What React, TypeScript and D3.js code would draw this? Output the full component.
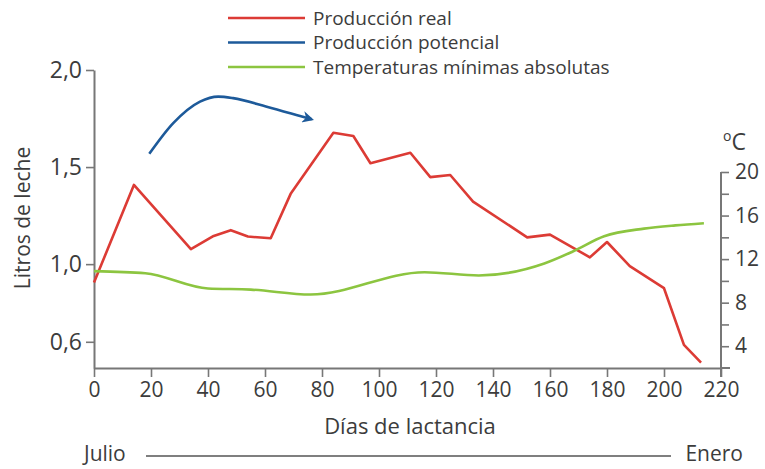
import * as React from "react";
import * as d3 from "d3";

// Producción real (litros de leche por día de lactancia)
const realDays = [0, 14, 34, 42, 48, 54, 62, 69, 84, 91, 97, 111, 118, 125, 133, 152, 160, 174, 180, 188, 200, 207, 213];
const realLitros = [0.905, 1.408, 1.077, 1.145, 1.175, 1.142, 1.133, 1.362, 1.677, 1.66, 1.52, 1.574, 1.448, 1.459, 1.322, 1.138, 1.152, 1.035, 1.114, 0.99, 0.876, 0.584, 0.493];

// Producción potencial (flecha)
const potDays = [19.4, 27.8, 37.2, 43.6, 48.8, 60.6, 72.3, 76.4];
const potLitros = [1.568, 1.726, 1.837, 1.863, 1.855, 1.811, 1.763, 1.746];

// Temperaturas mínimas absolutas (ºC)
const tempDays = [0, 18, 40, 55, 76, 116, 135, 158, 168, 179, 193, 204, 214];
const tempValues = [10.9, 10.7, 9.3, 9.2, 8.75, 10.8, 10.5, 11.6, 12.7, 14.1, 14.8, 15.1, 15.3];

const xTicks = [0, 20, 40, 60, 80, 100, 120, 140, 160, 180, 200, 220];
const leftTicks = [0.6, 1.0, 1.5, 2.0];
const rightTicks = [4, 6, 8, 10, 12, 14, 16, 18, 20];

const legendItems = [
  { label: "Producción real", color: "#dc3b35" },
  { label: "Producción potencial", color: "#1d5a9a" },
  { label: "Temperaturas mínimas absolutas", color: "#8cc540" },
];

const FONT = "'Open Sans', sans-serif";
const TEXT = "#3c3c3c";
const AXIS = "#777";

const Chart = () => {
  const svgRef = React.useRef(null);

  React.useEffect(() => {
    const width = 765;
    const height = 469;
    const svg = d3.select(svgRef.current).attr("width", width).attr("height", height);
    svg.selectAll("*").remove();

    const x = d3.scaleLinear().domain([0, 220]).range([94, 721]);
    const yL = d3.scaleLinear().domain([0.465, 2.0]).range([368, 70]);
    const yR = d3.scaleLinear().domain([2, 20]).range([368, 172]);

    const styleAxis = (g) => {
      g.select(".domain").attr("stroke", AXIS).attr("stroke-width", 2);
      g.selectAll(".tick line").attr("stroke", AXIS).attr("stroke-width", 1.6);
      g.selectAll(".tick text")
        .attr("fill", TEXT)
        .style("font-family", FONT)
        .style("font-size", "21px");
    };

    // x axis
    svg
      .append("g")
      .attr("transform", `translate(0 ${yL.range()[0]})`)
      .call(d3.axisBottom(x).tickValues(xTicks).tickSize(9).tickSizeOuter(0).tickPadding(5))
      .call(styleAxis);
    svg
      .append("line")
      .attr("x1", x(220))
      .attr("x2", x(220) + 9)
      .attr("y1", 368)
      .attr("y2", 368)
      .attr("stroke", AXIS)
      .attr("stroke-width", 2);

    // left axis
    svg
      .append("g")
      .attr("transform", `translate(${x(0)} 0)`)
      .call(
        d3
          .axisLeft(yL)
          .tickValues(leftTicks)
          .tickSize(8)
          .tickSizeOuter(0)
          .tickPadding(4)
          .tickFormat((d) => d3.format(".1f")(d).replace(".", ","))
      )
      .call(styleAxis)
      .call((g) => g.selectAll(".tick text").style("font-size", "23px"));

    // right axis
    const rAxis = svg
      .append("g")
      .attr("transform", `translate(${x(220)} 0)`)
      .call(
        d3
          .axisRight(yR)
          .tickValues(rightTicks)
          .tickSize(8)
          .tickSizeOuter(0)
          .tickPadding(6)
          .tickFormat((d) => (d % 4 === 0 ? String(d) : ""))
      )
      .call(styleAxis);
    rAxis.select(".domain").attr("d", `M0,${yR(20)}V${yR(2) + 9}`);

    // ºC label
    const degree = svg
      .append("text")
      .attr("x", 723)
      .attr("y", 150)
      .attr("fill", TEXT)
      .style("font-family", FONT)
      .style("font-size", "23px");
    degree.append("tspan").attr("font-size", "14px").attr("dy", "-9").text("o");
    degree.append("tspan").attr("dy", "9").text("C");

    // lines
    const realLine = d3
      .line()
      .x((d, i) => x(realDays[i]))
      .y((d) => yL(d));
    svg
      .append("path")
      .attr("d", realLine(realLitros))
      .attr("fill", "none")
      .attr("stroke", legendItems[0].color)
      .attr("stroke-width", 2.6)
      .attr("stroke-linejoin", "round");

    const tempLine = d3
      .line()
      .x((d, i) => x(tempDays[i]))
      .y((d) => yR(d))
      .curve(d3.curveMonotoneX);
    svg
      .append("path")
      .attr("d", tempLine(tempValues))
      .attr("fill", "none")
      .attr("stroke", legendItems[2].color)
      .attr("stroke-width", 2.6);

    // arrow
    svg
      .append("defs")
      .append("marker")
      .attr("id", "arrowhead")
      .attr("viewBox", "0 0 10 10")
      .attr("refX", 8)
      .attr("refY", 5)
      .attr("markerWidth", 4.5)
      .attr("markerHeight", 4.5)
      .attr("orient", "auto")
      .append("path")
      .attr("d", "M0,0 L10,5 L0,10 L3,5 Z")
      .attr("fill", legendItems[1].color);

    const potLine = d3
      .line()
      .x((d, i) => x(potDays[i]))
      .y((d) => yL(d))
      .curve(d3.curveMonotoneX);
    svg
      .append("path")
      .attr("d", potLine(potLitros))
      .attr("fill", "none")
      .attr("stroke", legendItems[1].color)
      .attr("stroke-width", 2.6)
      .attr("marker-end", "url(#arrowhead)");

    // legend
    const legend = svg.append("g");
    legendItems.forEach((item, i) => {
      const cy = 18 + i * 24.5;
      legend
        .append("line")
        .attr("x1", 228)
        .attr("x2", 305)
        .attr("y1", cy)
        .attr("y2", cy)
        .attr("stroke", item.color)
        .attr("stroke-width", 2.6);
      legend
        .append("text")
        .attr("x", 313)
        .attr("y", cy + 6.5)
        .attr("fill", TEXT)
        .style("font-family", FONT)
        .style("font-size", "19px")
        .text(item.label);
    });

    // axis titles
    svg
      .append("text")
      .attr("transform", `translate(30 218) rotate(-90)`)
      .attr("text-anchor", "middle")
      .attr("fill", TEXT)
      .style("font-family", FONT)
      .style("font-size", "21px")
      .text("Litros de leche");

    svg
      .append("text")
      .attr("x", 410)
      .attr("y", 434)
      .attr("text-anchor", "middle")
      .attr("fill", TEXT)
      .style("font-family", FONT)
      .style("font-size", "22px")
      .text("Días de lactancia");

    // months
    svg
      .append("text")
      .attr("x", 84)
      .attr("y", 461)
      .attr("fill", TEXT)
      .style("font-family", FONT)
      .style("font-size", "21px")
      .text("Julio");
    svg
      .append("line")
      .attr("x1", 146)
      .attr("x2", 671)
      .attr("y1", 456)
      .attr("y2", 456)
      .attr("stroke", "#555")
      .attr("stroke-width", 1.4);
    svg
      .append("text")
      .attr("x", 743)
      .attr("y", 461)
      .attr("text-anchor", "end")
      .attr("fill", TEXT)
      .style("font-family", FONT)
      .style("font-size", "21px")
      .text("Enero");
  }, []);

  return <svg ref={svgRef} style={{ position: "absolute", left: 0, top: 0, background: "#fff" }} />;
};

export default function App() {
  return (
    <div>
      <Chart />
    </div>
  );
}
